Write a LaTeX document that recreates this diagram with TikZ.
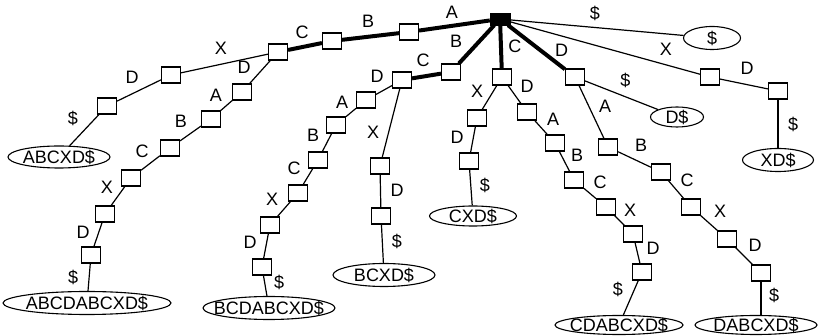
\documentclass[tikz,border=0pt]{standalone}
\usepackage{fontspec}
\setmainfont{Liberation Sans}
\usetikzlibrary{shapes.geometric}

\begin{document}
\begin{tikzpicture}[x=1pt, y=-1pt,
  box/.style={draw, line width=1.1pt, fill=white, minimum width=19pt,
              minimum height=16pt, inner sep=0pt},
  leaf/.style={draw, ellipse, line width=1.1pt, inner sep=0pt, minimum height=22pt},
  lbl/.style={font=\fontsize{18}{18}\selectfont, inner sep=0pt},
  branch/.style={line width=1.2pt},
  trunk/.style={line width=4pt}
]
  \useasboundingbox (0,0) rectangle (822,336);

  \node[draw, fill=black, minimum width=20pt, minimum height=12pt, inner sep=0pt] (root) at (500,19) {};

  % suffixes starting with A
  \node[box] (nA)    at (409,32) {};
  \node[box] (nAB)   at (332,41) {};
  \node[box] (nABC)  at (278,52) {};
  \node[box] (nABCX)  at (171,75) {};
  \node[box] (nABCXD) at (107,106) {};
  \node[leaf, minimum width=102pt, label={[lbl]center:ABCXD\$}] (lABCXD) at (59,157) {};
  \node[box] (nABCD)      at (242,92) {};
  \node[box] (nABCDA)     at (211,119) {};
  \node[box] (nABCDAB)    at (170,148) {};
  \node[box] (nABCDABC)   at (131,178) {};
  \node[box] (nABCDABCX)  at (105,214) {};
  \node[box] (nABCDABCXD) at (91,255) {};
  \node[leaf, minimum width=168pt, minimum height=23pt, label={[lbl]center:ABCDABCXD\$}] (lABCDABCXD) at (87,303) {};

  % suffixes starting with B
  \node[box] (nB)        at (451,72) {};
  \node[box] (nBC)       at (402,80) {};
  \node[box] (nBCD)      at (366,100) {};
  \node[box] (nBCDA)     at (336,125) {};
  \node[box] (nBCDAB)    at (318,160) {};
  \node[box] (nBCDABC)   at (298,193) {};
  \node[box] (nBCDABCX)  at (270,225) {};
  \node[box] (nBCDABCXD) at (262,267) {};
  \node[leaf, minimum width=132pt, minimum height=23pt, label={[lbl]center:BCDABCXD\$}] (lBCDABCXD) at (269,308) {};
  \node[box] (nBCX)  at (380,166) {};
  \node[box] (nBCXD) at (381,216) {};
  \node[leaf, minimum width=102pt, minimum height=23pt, label={[lbl]center:BCXD\$}] (lBCXD) at (384,275) {};

  % suffixes starting with C
  \node[box] (nC)   at (502,77) {};
  \node[box] (nCX)  at (477,118) {};
  \node[box] (nCXD) at (469,161) {};
  \node[leaf, minimum width=87pt, minimum height=20pt, label={[lbl]center:CXD\$}] (lCXD) at (473,216) {};
  \node[box] (nCD)      at (527,112) {};
  \node[box] (nCDA)     at (555,143) {};
  \node[box] (nCDAB)    at (574,180) {};
  \node[box] (nCDABC)   at (606,207) {};
  \node[box] (nCDABCX)  at (633,234) {};
  \node[box] (nCDABCXD) at (642,272) {};
  \node[leaf, minimum width=128pt, minimum height=19pt, label={[lbl]center:CDABCXD\$}] (lCDABCXD) at (619,325) {};

  % suffixes starting with D
  \node[box] (nD) at (575,77) {};
  \node[leaf, minimum width=53pt, minimum height=20pt, label={[lbl]center:D\$}] (lD) at (677,117) {};
  \node[box] (nDA)     at (608,147) {};
  \node[box] (nDAB)    at (661,172) {};
  \node[box] (nDABC)   at (691,207) {};
  \node[box] (nDABCX)  at (727,239) {};
  \node[box] (nDABCXD) at (761,273) {};
  \node[leaf, minimum width=122pt, minimum height=19pt, label={[lbl]center:DABCXD\$}] (lDABCXD) at (756,325) {};

  % suffixes starting with X and the end marker
  \node[box] (nX)  at (710,77) {};
  \node[box] (nXD) at (778,91) {};
  \node[leaf, minimum width=71pt, minimum height=23pt, label={[lbl]center:XD\$}] (lXD) at (778,160) {};
  \node[leaf, minimum width=57pt, minimum height=23pt, label={[lbl]center:\$}] (lEnd) at (712,38) {};

  % edges
  \draw[trunk] (root) -- node[lbl, shift={(-2.5,-13)}] {A} (nA);
  \draw[trunk] (nA) -- node[lbl, shift={(-2.5,-15.5)}] {B} (nAB);
  \draw[trunk] (nAB) -- node[lbl, shift={(-3,-14.5)}] {C} (nABC);
  \draw[branch] (nABC) -- node[lbl, shift={(-3.5,-15.5)}] {X} (nABCX);
  \draw[branch] (nABCX) -- node[lbl, shift={(-7,-13.5)}] {D} (nABCXD);
  \draw[branch] (nABCXD) -- node[lbl, shift={(-11.5,-12)}] {\$} (lABCXD);
  \draw[branch] (nABC) -- node[lbl, shift={(-16,-5)}] {D} (nABCD);
  \draw[branch] (nABCD) -- node[lbl, shift={(-10.5,-10.5)}] {A} (nABCDA);
  \draw[branch] (nABCDA) -- node[lbl, shift={(-9.5,-12.5)}] {B} (nABCDAB);
  \draw[branch] (nABCDAB) -- node[lbl, shift={(-8.5,-12)}] {C} (nABCDABC);
  \draw[branch] (nABCDABC) -- node[lbl, shift={(-11,-9)}] {X} (nABCDABCX);
  \draw[branch] (nABCDABCX) -- node[lbl, shift={(-15,-2.5)}] {D} (nABCDABCXD);
  \draw[branch] (nABCDABCXD) -- node[lbl, shift={(-16,0)}] {\$} (lABCDABCXD);

  \draw[trunk] (root) -- node[lbl, shift={(-20.5,-3)}] {B} (nB);
  \draw[trunk] (nB) -- node[lbl, shift={(-3.5,-16)}] {C} (nBC);
  \draw[branch] (nBC) -- node[lbl, shift={(-7,-14)}] {D} (nBCD);
  \draw[branch] (nBCD) -- node[lbl, shift={(-9,-10.5)}] {A} (nBCDA);
  \draw[branch] (nBCDA) -- node[lbl, shift={(-14,-7.5)}] {B} (nBCDAB);
  \draw[branch] (nBCDAB) -- node[lbl, shift={(-14,-8.5)}] {C} (nBCDABC);
  \draw[branch] (nBCDABC) -- node[lbl, shift={(-12,-10)}] {X} (nBCDABCX);
  \draw[branch] (nBCDABCX) -- node[lbl, shift={(-16,-4)}] {D} (nBCDABCXD);
  \draw[branch] (nBCDABCXD) -- node[lbl, shift={(14,-3)}] {\$} (lBCDABCXD);
  \draw[branch] (nBC) -- node[lbl, shift={(-18,9)}] {X} (nBCX);
  \draw[branch] (nBCX) -- node[lbl, shift={(16.5,-1)}] {D} (nBCXD);
  \draw[branch] (nBCXD) -- node[lbl, shift={(14.5,-2)}] {\$} (lBCXD);

  \draw[trunk] (root) -- node[lbl, shift={(14,-0.5)}] {C} (nC);
  \draw[branch] (nC) -- node[lbl, shift={(-12.5,-6.5)}] {X} (nCX);
  \draw[branch] (nCX) -- node[lbl, shift={(-16,-2.5)}] {D} (nCXD);
  \draw[branch] (nCXD) -- node[lbl, shift={(14,-2)}] {\$} (lCXD);
  \draw[branch] (nC) -- node[lbl, shift={(12.5,-8.5)}] {D} (nCD);
  \draw[branch] (nCD) -- node[lbl, shift={(12,-8.5)}] {A} (nCDA);
  \draw[branch] (nCDA) -- node[lbl, shift={(12.5,-6.5)}] {B} (nCDAB);
  \draw[branch] (nCDAB) -- node[lbl, shift={(10,-11.5)}] {C} (nCDABC);
  \draw[branch] (nCDABC) -- node[lbl, shift={(10.5,-10.5)}] {X} (nCDABCX);
  \draw[branch] (nCDABCX) -- node[lbl, shift={(15.5,-5)}] {D} (nCDABCXD);
  \draw[branch] (nCDABCXD) -- node[lbl, shift={(-13,-8)}] {\$} (lCDABCXD);

  \draw[trunk] (root) -- node[lbl, pos=0.73, shift={(12,-7)}] {D} (nD);
  \draw[branch] (nD) -- node[lbl, shift={(4,-15)}] {\$} (lD);
  \draw[branch] (nD) -- node[lbl, shift={(13.5,-6)}] {A} (nDA);
  \draw[branch] (nDA) -- node[lbl, shift={(6.5,-14.5)}] {B} (nDAB);
  \draw[branch] (nDAB) -- node[lbl, shift={(11,-9.5)}] {C} (nDABC);
  \draw[branch] (nDABC) -- node[lbl, shift={(11,-12)}] {X} (nDABCX);
  \draw[branch] (nDABCX) -- node[lbl, shift={(11,-11)}] {D} (nDABCXD);
  \draw[branch] (nDABCXD) -- node[lbl, shift={(13,-3)}] {\$} (nDABCXD |- lDABCXD.north);

  \draw[branch] (root) -- node[lbl, pos=0.82, shift={(0,-15)}] {X} (nX);
  \draw[branch] (nX) -- node[lbl, shift={(3,-16)}] {D} (nXD);
  \draw[branch] (nXD) -- node[lbl, shift={(15,0.5)}] {\$} (lXD);
  \draw[branch] (root) -- node[lbl, shift={(-2,-14)}] {\$} (lEnd);
\end{tikzpicture}
\end{document}
